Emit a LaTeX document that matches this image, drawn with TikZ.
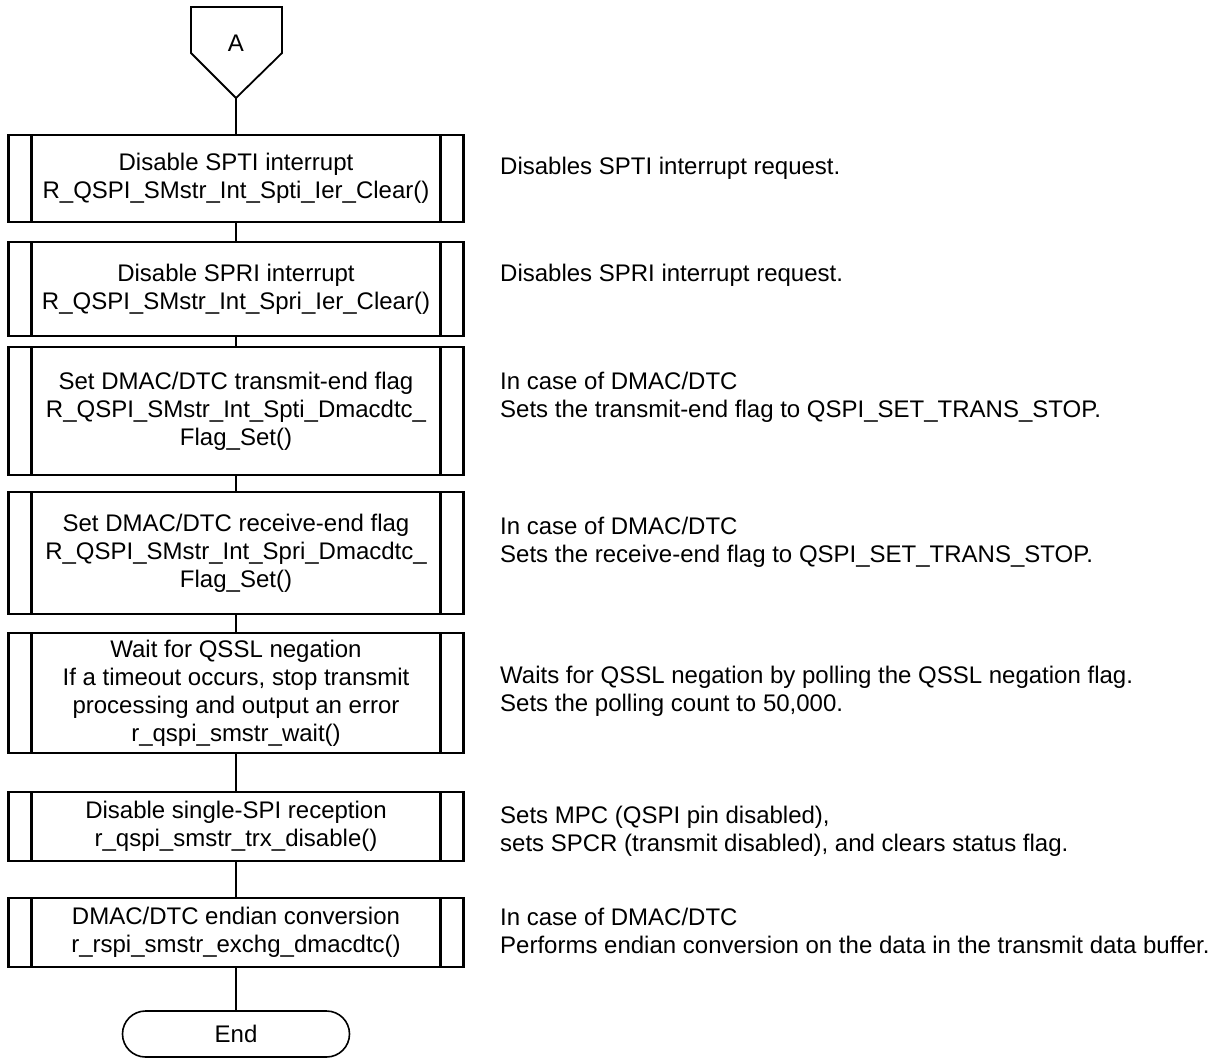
\documentclass[tikz,border=0pt]{standalone}
\usepackage{fontspec}
\setmainfont{Liberation Sans}
\newcommand{\boxlw}{2.2pt}
\newcommand{\barsep}{23pt}

\begin{document}
\begin{tikzpicture}[x=1pt,y=-1pt,
    font=\fontsize{24}{28}\selectfont,
    sub/.style={draw, line width=\boxlw, minimum width=455pt, inner sep=0pt, align=center,
      path picture={\draw[line width=\boxlw]
        ([xshift=\barsep]path picture bounding box.north west) -- ([xshift=\barsep]path picture bounding box.south west)
        ([xshift=-\barsep]path picture bounding box.north east) -- ([xshift=-\barsep]path picture bounding box.south east);}},
    note/.style={anchor=west, align=left, inner sep=0pt},
    conn/.style={line width=1.2pt}]

        \useasboundingbox (0,0) rectangle (1221,1059);

        % off-page connector
        \coordinate (Atip) at (236,98);
        \draw[line width=1.8pt] (191,7) -- (191,53) -- (Atip) -- (282,53) -- (282,7) -- cycle;
        \node (A) at (236,43) {A};

        % subroutine boxes
        \node (s1) at (236,178.5) [sub, minimum height=87pt] {Disable SPTI interrupt\\R\_QSPI\_SMstr\_Int\_Spti\_Ier\_Clear()};
        \node (s2) at (236,289) [sub, minimum height=94pt] {Disable SPRI interrupt\\R\_QSPI\_SMstr\_Int\_Spri\_Ier\_Clear()};
        \node (s3) at (236,411) [sub, minimum height=128pt] {Set DMAC/DTC transmit-end flag\\R\_QSPI\_SMstr\_Int\_Spti\_Dmacdtc\_\\Flag\_Set()};
        \node (s4) at (236,553) [sub, minimum height=122pt] {Set DMAC/DTC receive-end flag\\R\_QSPI\_SMstr\_Int\_Spri\_Dmacdtc\_\\Flag\_Set()};
        \node (s5) at (236,693) [sub, minimum height=120pt] {Wait for QSSL negation\\If a timeout occurs, stop transmit\\processing and output an error\\r\_qspi\_smstr\_wait()};
        \node (s6) at (236,826.5) [sub, minimum height=69pt] {Disable single-SPI reception\\r\_qspi\_smstr\_trx\_disable()};
        \node (s7) at (236,932.5) [sub, minimum height=69pt] {DMAC/DTC endian conversion\\r\_rspi\_smstr\_exchg\_dmacdtc()};

        \node (fin) at (236,1034) [draw, line width=1.6pt, rounded corners=23pt, minimum width=227pt, minimum height=46pt] {End};

        \draw[conn] (Atip) -- (s1) -- (s2) -- (s3) -- (s4) -- (s5) -- (s6) -- (s7) -- (fin);

        % notes
        \node (n1) at (500,168) [note] {Disables SPTI interrupt request.};
        \node (n2) at (500,275) [note] {Disables SPRI interrupt request.};
        \node (n3) at (500,397) [note] {In case of DMAC/DTC\\Sets the transmit-end flag to QSPI\_SET\_TRANS\_STOP.};
        \node (n4) at (500,542) [note] {In case of DMAC/DTC\\Sets the receive-end flag to QSPI\_SET\_TRANS\_STOP.};
        \node (n5) at (500,691) [note] {Waits for QSSL negation by polling the QSSL negation flag.\\Sets the polling count to 50,000.};
        \node (n6) at (500,831) [note] {Sets MPC (QSPI pin disabled),\\sets SPCR (transmit disabled), and clears status flag.};
        \node (n7) at (500,931) [note] {In case of DMAC/DTC\\Performs endian conversion on the data in the transmit data buffer.};

\end{tikzpicture}
\end{document}
